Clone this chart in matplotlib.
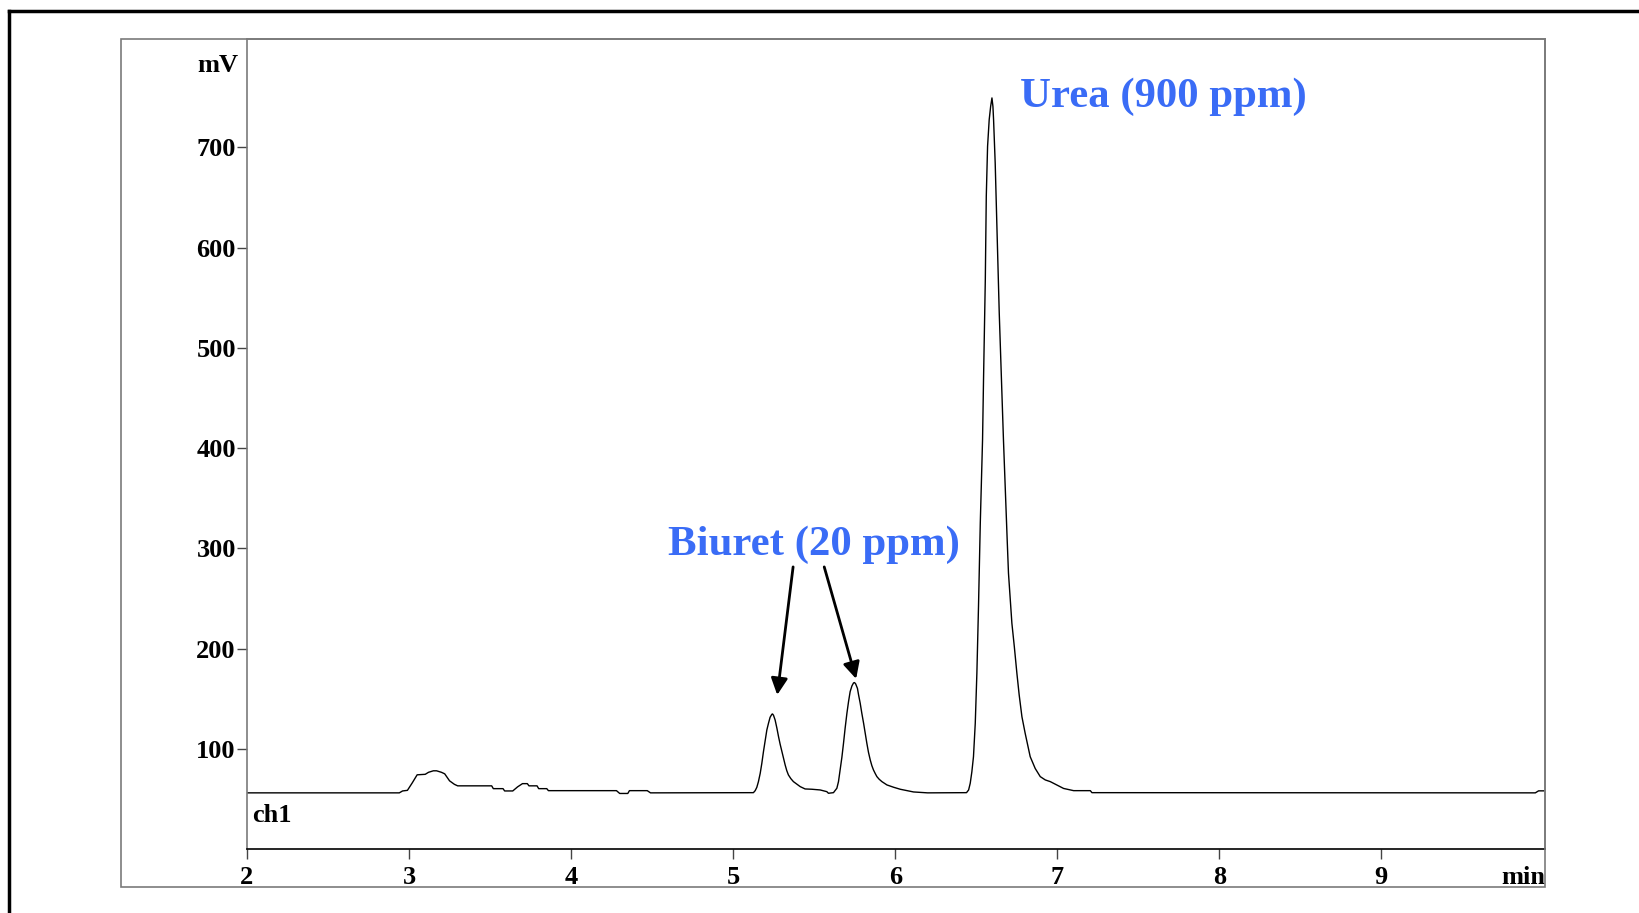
import matplotlib
matplotlib.use('Agg')
import matplotlib.pyplot as plt
from matplotlib.patches import Rectangle
from matplotlib.lines import Line2D

plt.rcParams['font.family'] = ['Liberation Serif', 'DejaVu Serif']
plt.rcParams['font.weight'] = 'bold'
plt.rcParams['font.size'] = 19

# chromatogram trace (time in min, signal in mV)
time_min = [2.00, 2.94, 2.96, 2.99, 3.02, 3.05, 3.10, 3.12, 3.15, 3.17, 3.20,
            3.22, 3.25, 3.28, 3.30, 3.51, 3.52, 3.58, 3.59, 3.64, 3.67, 3.70,
            3.73, 3.74, 3.79, 3.80, 3.85, 3.86, 4.28, 4.30, 4.35, 4.36, 4.47,
            4.49, 5.125,
            # biuret peak 1
            5.136, 5.146, 5.156, 5.167, 5.177, 5.187, 5.198, 5.208, 5.218,
            5.228, 5.239, 5.243, 5.249, 5.259, 5.270, 5.280, 5.290, 5.301,
            5.311, 5.321, 5.331, 5.341, 5.356, 5.372, 5.414, 5.444, 5.486,
            5.537, 5.578, 5.588, 5.619,
            # biuret peak 2
            5.640, 5.650, 5.660, 5.671, 5.681, 5.691, 5.702, 5.712, 5.722,
            5.733, 5.743, 5.749, 5.756, 5.767, 5.774, 5.784, 5.794, 5.805,
            5.815, 5.825, 5.835, 5.846, 5.856, 5.866, 5.877, 5.887, 5.901,
            5.918, 5.949, 5.990, 6.031, 6.072, 6.113, 6.154, 6.20, 6.440,
            # urea peak
            6.453, 6.463, 6.473, 6.483, 6.494, 6.504, 6.514, 6.525, 6.539,
            6.545, 6.556, 6.562, 6.570, 6.580, 6.589, 6.597, 6.603, 6.607,
            6.617, 6.628, 6.642, 6.659, 6.668, 6.683, 6.691, 6.699, 6.710,
            6.720, 6.735, 6.751, 6.765, 6.782, 6.802, 6.833, 6.864, 6.895,
            6.926, 6.957, 7.039, 7.101, 7.204, 7.214, 9.95, 9.97, 10.01]
signal_mv = [56.0, 56.0, 57.9, 58.5, 66.0, 74.0, 74.5, 76.5, 78.0, 78.0, 76.5,
             75.0, 68.0, 64.5, 63.0, 63.0, 60.2, 60.2, 57.9, 57.9, 62.0, 65.2,
             65.2, 63.0, 63.0, 60.2, 60.2, 58.2, 58.2, 55.4, 55.4, 58.2, 58.2,
             56.0, 56.2,
             58.2, 61.5, 67.2, 75.5, 85.5, 97.1, 108.8, 118.8, 125.4,
             131.4, 134.4, 134.7, 133.4, 128.7, 120.5, 112.1, 104.5, 97.1,
             90.1, 83.8, 78.1, 73.9, 70.2, 67.2, 62.2, 59.9, 59.6,
             58.9, 57.2, 55.6, 56.2,
             60.6, 67.2, 78.8, 91.5, 105.5, 120.5, 135.4, 147.0, 157.0,
             162.7, 165.7, 166.0, 164.7, 160.2, 153.7, 145.4, 135.4, 125.4,
             115.5, 105.5, 96.5, 88.8, 83.1, 78.8, 75.2, 72.2, 69.6,
             67.2, 63.9, 61.6, 59.6, 58.2, 56.9, 56.5, 56.0, 56.2,
             58.9, 65.6, 77.0, 92.1, 125.4, 175.4, 241.8, 325.0, 408.2,
             468.1, 567.9, 651.0, 700.9, 727.5, 740.8, 749.2, 740.8, 727.5,
             684.3, 617.8, 534.6, 451.4, 408.2, 341.6, 308.4, 275.1, 248.5,
             225.2, 201.9, 175.1, 153.7, 131.9, 115.4, 92.1, 80.3, 72.2,
             68.9, 67.2, 60.4, 58.2, 58.2, 56.2, 56.0, 58.0, 58.0]

x_ticks = [2, 3, 4, 5, 6, 7, 8, 9]
y_ticks = [100, 200, 300, 400, 500, 600, 700]

urea_label = 'Urea (900 ppm)'
biuret_label = 'Biuret (20 ppm)'
# arrow tail / head positions for the biuret peaks
arrow_tails = [(5.370, 281.4), (5.562, 281.4)]
arrow_heads = [(5.272, 153.7), (5.759, 169.7)]

LABEL_BLUE = '#3a6cf6'

fig = plt.figure(figsize=(16.4, 9.13), dpi=100)
ax = fig.add_axes([0.1506, 0.0701, 0.7915, 0.8872])

ax.plot(time_min, signal_mv, color='black', lw=1.0)
ax.set_xlim(2, 10.01)
ax.set_ylim(0, 808)
ax.set_xticks(x_ticks)
ax.set_yticks(y_ticks)
ax.tick_params(axis='both', direction='out', length=7, width=1, color='#444444')
ax.tick_params(axis='x', pad=5)
ax.tick_params(axis='y', pad=1)

for s in ['left', 'top', 'right']:
    ax.spines[s].set_color('#7a7a7a')
    ax.spines[s].set_linewidth(1.2)
ax.spines['bottom'].set_color('black')
ax.spines['bottom'].set_linewidth(1.2)

ax.text(-0.007, 782, 'mV', transform=ax.get_yaxis_transform(),
        ha='right', va='center', fontsize=19)
ax.text(1.0, -0.0206, 'min', transform=ax.transAxes, ha='right', va='top',
        fontsize=19)
ax.text(2.03, 27, 'ch1', ha='left', va='baseline', fontsize=19)

ax.text(6.772, 740.5, urea_label, color=LABEL_BLUE, fontsize=30.8,
        ha='left', va='baseline')
ax.text(4.599, 293.4, biuret_label, color=LABEL_BLUE, fontsize=30.8,
        ha='left', va='baseline')
for tail, head in zip(arrow_tails, arrow_heads):
    ax.annotate('', xy=head, xytext=tail,
                arrowprops=dict(arrowstyle='-|>', color='black', lw=2,
                                mutation_scale=25, shrinkA=0, shrinkB=0))

# inner gray box and the heavy outer frame
fig.patches.append(Rectangle((0.0738, 0.0285), 0.8683, 0.9288,
                             transform=fig.transFigure, fill=False,
                             edgecolor='#7a7a7a', lw=1.2))
fig.lines.append(Line2D([0.0055, 0.0055], [0, 0.988], transform=fig.transFigure,
                        color='black', lw=2.5))
fig.lines.append(Line2D([0.0055, 1.0], [0.988, 0.988], transform=fig.transFigure,
                        color='black', lw=2.5))

plt.savefig('out.png', dpi=100)
